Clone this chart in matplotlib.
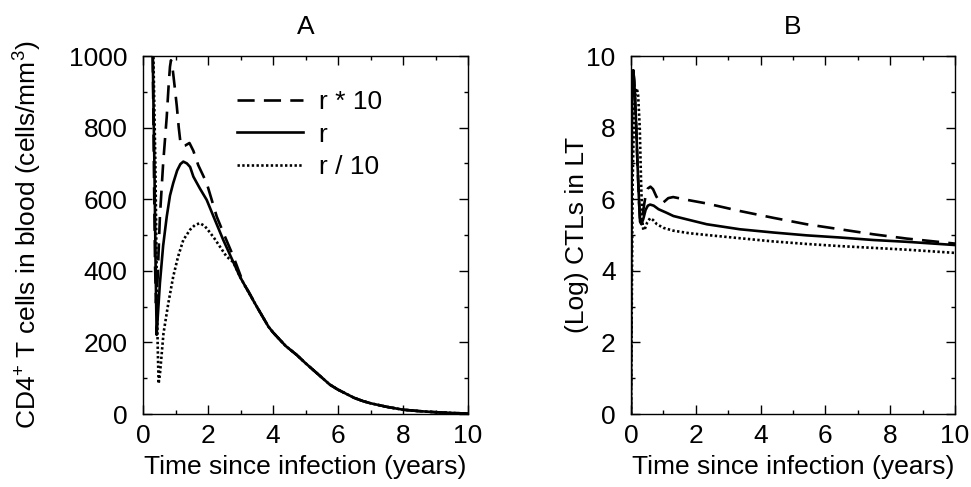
import matplotlib
matplotlib.use("Agg")
import matplotlib.pyplot as plt
from matplotlib.ticker import MultipleLocator

plt.rcParams['font.family'] = ['Liberation Sans', 'DejaVu Sans']
plt.rcParams['mathtext.fontset'] = 'custom'
plt.rcParams['mathtext.rm'] = 'Liberation Sans'
plt.rcParams['mathtext.it'] = 'Liberation Sans:italic'
plt.rcParams['mathtext.bf'] = 'Liberation Sans:bold'

# panel A: CD4+ T cells in blood (cells/mm^3)
tA_r = [0, 0.28, 0.30, 0.35, 0.39, 0.42, 0.46, 0.52, 0.62, 0.73, 0.83, 0.93, 1.05, 1.15, 1.24,
        1.35, 1.45, 1.55, 1.75, 1.96, 2.2, 2.47, 2.78, 2.98, 3.25, 3.5, 3.86, 4.0, 4.39, 4.73,
        5.0, 5.5, 5.75, 6.0, 6.5, 6.77, 7.0, 7.5, 8.0, 8.5, 9.0, 9.5, 10.0]
cd4_r = [1050, 1050, 1000, 700, 400, 221, 280, 365, 470, 551, 610, 645, 680, 698, 705,
         700, 690, 663, 630, 598, 545, 486, 424, 384, 340, 300, 244, 228, 190, 165,
         142, 102, 82, 68, 45, 36, 30, 20, 12, 8, 5, 3, 1]

tA_r10 = [0, 0.28, 0.30, 0.34, 0.37, 0.40, 0.45, 0.52, 0.62, 0.73, 0.79, 0.83, 0.86, 0.89, 0.93,
          0.98, 1.04, 1.10, 1.15, 1.20, 1.30, 1.43, 1.55, 1.70, 1.96, 2.27, 2.50, 2.78, 3.09,
          3.25, 3.5, 3.86, 4.0, 4.39, 4.73, 5.0, 5.5, 5.75, 6.0, 6.5, 6.77, 7.0, 7.5, 8.0,
          8.5, 9.0, 9.5, 10.0]
cd4_r10 = [1050, 1050, 1000, 650, 420, 310, 380, 551, 700, 830, 920, 970, 988, 980, 950,
           910, 860, 800, 760, 748, 750, 757, 735, 695, 645, 551, 500, 440, 365,
           342, 300, 244, 228, 190, 165, 142, 102, 82, 68, 45, 36, 30, 20, 12,
           8, 5, 3, 1]

tA_rd10 = [0, 0.30, 0.32, 0.38, 0.42, 0.45, 0.48, 0.52, 0.63, 0.78, 0.93, 1.08, 1.24, 1.45, 1.60,
           1.75, 1.90, 2.06, 2.20, 2.37, 2.57, 2.78, 2.98, 3.25, 3.5, 3.86, 4.0, 4.39, 4.73,
           5.0, 5.5, 5.75, 6.0, 6.5, 6.77, 7.0, 7.5, 8.0, 8.5, 9.0, 9.5, 10.0]
cd4_rd10 = [1050, 1050, 1000, 700, 400, 200, 85, 110, 225, 310, 384, 440, 486, 515, 528,
            533, 525, 507, 490, 467, 440, 424, 384, 340, 300, 244, 228, 190, 165,
            142, 102, 82, 68, 45, 36, 30, 20, 12, 8, 5, 3, 1]

# panel B: (log) CTLs in LT
tB_r = [0, 0.01, 0.03, 0.05, 0.07, 0.10, 0.15, 0.20, 0.25, 0.28, 0.32, 0.38, 0.45, 0.52, 0.59,
        0.70, 0.85, 1.10, 1.31, 1.80, 2.34, 3.36, 4.39, 5.42, 6.45, 7.48, 8.51, 10.0]
ctl_r = [0, 4, 8.5, 9.5, 9.6, 9.3, 8.3, 7.0, 5.9, 5.37, 5.3, 5.45, 5.7, 5.82, 5.85,
         5.82, 5.72, 5.62, 5.53, 5.42, 5.30, 5.16, 5.07, 4.99, 4.93, 4.86, 4.81, 4.72]

tB_r10 = [0, 0.01, 0.03, 0.05, 0.07, 0.10, 0.15, 0.20, 0.25, 0.28, 0.32, 0.38, 0.45, 0.52, 0.60,
          0.68, 0.78, 0.88, 0.97, 1.05, 1.15, 1.30, 1.80, 2.34, 3.36, 4.39, 5.42, 6.45, 7.48,
          8.51, 10.0]
ctl_r10 = [0, 4, 8.5, 9.5, 9.6, 9.3, 8.3, 7.0, 5.9, 5.4, 5.4, 5.7, 6.1, 6.3, 6.35,
           6.28, 6.08, 5.93, 5.89, 5.95, 6.03, 6.06, 5.97, 5.88, 5.67, 5.48, 5.30, 5.16, 5.02,
           4.90, 4.76]

tB_rd10 = [0, 0.02, 0.05, 0.10, 0.15, 0.18, 0.22, 0.27, 0.31, 0.35, 0.38, 0.42, 0.50, 0.59,
           0.68, 0.80, 1.00, 1.31, 1.80, 2.34, 3.36, 4.39, 5.42, 6.45, 7.48, 8.51, 10.0]
ctl_rd10 = [0, 2.5, 6.5, 8.6, 9.05, 9.1, 8.9, 8.0, 6.5, 5.4, 5.14, 5.15, 5.35, 5.47,
            5.42, 5.3, 5.2, 5.12, 5.05, 5.0, 4.91, 4.82, 4.75, 4.69, 4.64, 4.59, 4.50]

labels = ["r * 10", "r", "r / 10"]
fs = 19

fig = plt.figure(figsize=(9.71, 4.87), dpi=100)
axA = fig.add_axes([143/971, 1-414/487, 325/971, 358/487])
axB = fig.add_axes([631/971, 1-414/487, 324/971, 358/487])

dash = (0, (6.5, 3.5))
dot = (0, (0.9, 0.9))
lw = 1.9

axA.plot(tA_r10, cd4_r10, color='black', lw=lw, linestyle=dash, label=labels[0])
axA.plot(tA_r, cd4_r, color='black', lw=lw, linestyle='-', label=labels[1])
axA.plot(tA_rd10, cd4_rd10, color='black', lw=lw, linestyle=dot, label=labels[2])

axB.plot(tB_r10, ctl_r10, color='black', lw=lw, linestyle=dash)
axB.plot(tB_r, ctl_r, color='black', lw=lw, linestyle='-')
axB.plot(tB_rd10, ctl_rd10, color='black', lw=lw, linestyle=dot)

axA.set_xlim(0, 10)
axA.set_ylim(0, 1000)
axA.yaxis.set_major_locator(MultipleLocator(200))
axA.yaxis.set_minor_locator(MultipleLocator(100))
axB.set_xlim(0, 10)
axB.set_ylim(0, 10)
axB.yaxis.set_major_locator(MultipleLocator(2))
axB.yaxis.set_minor_locator(MultipleLocator(1))

for ax in (axA, axB):
    ax.xaxis.set_major_locator(MultipleLocator(2))
    ax.xaxis.set_minor_locator(MultipleLocator(1))
    ax.tick_params(which='both', direction='in', top=True, right=True, labelsize=fs, width=1)
    ax.tick_params(which='major', length=6.5, pad=7)
    ax.tick_params(which='minor', length=3.2)
    ax.tick_params(axis='y', pad=11)
    for s in ax.spines.values():
        s.set_linewidth(1)
    ax.set_xlabel("Time since infection (years)", fontsize=fs, labelpad=5)

axA.set_ylabel("CD4$^{\\mathrm{+}}$ T cells in blood (cells/mm$^{\\mathrm{3}}$)", fontsize=fs)
axB.set_ylabel("(Log) CTLs in LT", fontsize=fs)
axA.yaxis.set_label_coords(-0.305, 0.5)
axB.yaxis.set_label_coords(-0.13, 0.5)
axA.set_title("A", fontsize=fs, pad=16)
axB.set_title("B", fontsize=fs, pad=16)

axA.legend(loc='upper left', bbox_to_anchor=(0.289, 0.905), frameon=False, fontsize=fs,
           handlelength=2.5, handletextpad=0.6, labelspacing=0.33, borderpad=0, borderaxespad=0)

fig.savefig("out.png", dpi=100)
